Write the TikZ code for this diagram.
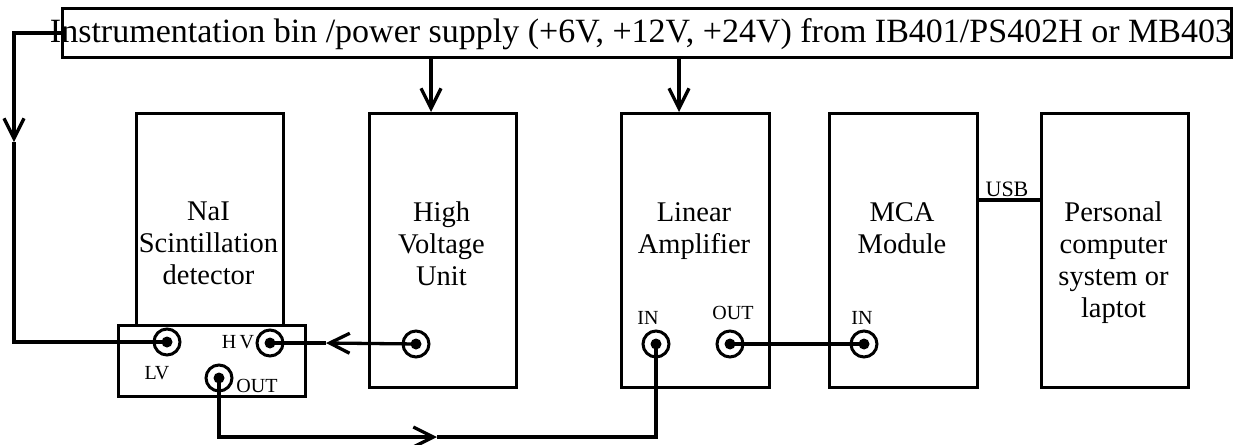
\documentclass[tikz,border=0pt]{standalone}
\usepackage{fontspec}
\setmainfont{Liberation Serif}
\usetikzlibrary{arrows.meta}
\begin{document}
\begin{tikzpicture}[x=1pt,y=-1pt,
  box/.style={draw,line width=3pt,inner sep=0pt,anchor=north west},
  wire/.style={line width=3.3pt},
  tip/.style={-{Straight Barb[length=20pt,width=20pt]}},
  lbl/.style={font=\fontsize{28.5}{32}\selectfont,align=center,anchor=north,inner sep=0pt},
  small/.style={font=\fontsize{20}{24}\selectfont,inner sep=0pt,anchor=base},
  conn/.style={circle,draw,line width=3pt,minimum size=26pt,inner sep=0pt,
    path picture={\fill (path picture bounding box.center) circle (5.5pt);}}
]
\fill[white] (0,0) rectangle (1233,444);
\useasboundingbox (0,0) rectangle (1233,444);

% boxes
\node[box,minimum width=1169pt,minimum height=49pt] (bin) at (61,7) {};
\node[font=\fontsize{34}{40}\selectfont,anchor=base,inner sep=0pt] (bintxt) at (641,43)
  {Instrumentation bin /power supply (+6V, +12V, +24V) from IB401/PS402H or MB403};
\node[box,minimum width=147pt,minimum height=212pt] (nai) at (135,112) {};
\node[box,minimum width=187pt,minimum height=71pt] (base) at (117,324) {};
\node[box,minimum width=147pt,minimum height=274pt] (hvu) at (368,112) {};
\node[box,minimum width=148pt,minimum height=274pt] (amp) at (620,112) {};
\node[box,minimum width=148pt,minimum height=274pt] (mca) at (828,112) {};
\node[box,minimum width=147pt,minimum height=274pt] (pc) at (1040,112) {};

% box texts
\node[lbl] (nailbl) at (208.5,202) {NaI\\Scintillation\\detector};
\node[lbl] (hvulbl) at (441.5,202) {High\\Voltage\\Unit};
\node[lbl] (amplbl) at (694,202) {Linear\\Amplifier};
\node[lbl] (mcalbl) at (902,202) {MCA\\Module};
\node[lbl] (pclbl) at (1113.5,202) {Personal\\computer\\system or\\laptot};

% connectors
\node[conn] (lv) at (167,342) {};
\node[conn] (dhv) at (270,343) {};
\node[conn] (dout) at (219,378) {};
\node[conn] (hvuc) at (416,344) {};
\node[conn] (ampin) at (656,344) {};
\node[conn] (ampout) at (730,344) {};
\node[conn] (mcain) at (864,344) {};

% small labels
\node[small] (lvlbl) at (157,379) {LV};
\node[small] (hvlbl) at (238,348) {H\,V};
\node[small] (doutlbl) at (257,392) {OUT};
\node[small] (ampinlbl) at (648,324) {IN};
\node[small] (ampoutlbl) at (733,319) {OUT};
\node[small] (mcainlbl) at (862,324) {IN};

% coordinates
\coordinate (larr) at (14,142);
\coordinate (hvarr) at (326,343);
\coordinate (barr) at (437,437);
\coordinate (hvtop) at (431,112);
\coordinate (amptop) at (679,112);
\coordinate (usbc) at (1000,200);

% wires
\draw[wire,tip] (bin.west) -| (larr);
\draw[wire] (larr) |- (lv.center);
\draw[wire,tip] (hvuc.center) -- (hvarr);
\draw[wire] (hvarr) -- (dhv.center);
\draw[wire,tip] (dout.center) |- (barr);
\draw[wire] (barr) -| (ampin.center);
\draw[wire] (ampout.center) -- (mcain.center);
\draw[wire,tip] (bin.south -| hvtop) -- (hvtop);
\draw[wire,tip] (bin.south -| amptop) -- (amptop);
\draw[wire] (mca.east |- usbc) -- (pc.west |- usbc);
\node[font=\fontsize{22}{26}\selectfont,anchor=base,inner sep=0pt] (usb) at (1007,196) {USB};
\end{tikzpicture}
\end{document}
